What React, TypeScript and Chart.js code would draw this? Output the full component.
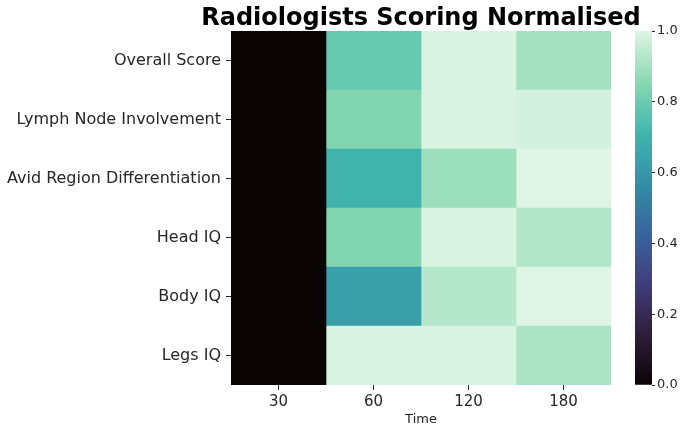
import React, { useEffect, useRef } from "react";
import { Chart, registerables } from "chart.js";
Chart.register(...registerables);

const rowLabels = [
  "Overall Score",
  "Lymph Node Involvement",
  "Avid Region Differentiation",
  "Head IQ",
  "Body IQ",
  "Legs IQ",
];
const timeLabels = ["30", "60", "120", "180"];
// normalised scores per time column (one value per row)
const t30 = [0, 0, 0, 0, 0, 0];
const t60 = [0.79, 0.84, 0.7, 0.84, 0.63, 0.99];
const t120 = [0.99, 0.99, 0.886, 0.99, 0.93, 0.99];
const t180 = [0.9, 0.98, 1.0, 0.924, 1.0, 0.913];
const columns = [t30, t60, t120, t180];
const colorbarTicks = [0, 0.2, 0.4, 0.6, 0.8, 1.0];
const titleText = "Radiologists Scoring Normalised";
const xTitle = "Time";

const makoStops: [number, number[]][] = [
  [0, [11, 4, 5]],
  [1 / 7, [46, 30, 59]],
  [2 / 7, [65, 61, 123]],
  [3 / 7, [55, 101, 158]],
  [4 / 7, [52, 143, 167]],
  [5 / 7, [64, 183, 173]],
  [6 / 7, [138, 217, 177]],
  [1, [222, 245, 229]],
];

function mako(v: number): string {
  const t = Math.max(0, Math.min(1, v));
  for (let i = 0; i < makoStops.length - 1; i++) {
    const [a, ca] = makoStops[i];
    const [b, cb] = makoStops[i + 1];
    if (t <= b) {
      const f = (t - a) / (b - a);
      const c = ca.map((x, k) => Math.round(x + (cb[k] - x) * f));
      return `rgb(${c[0]},${c[1]},${c[2]})`;
    }
  }
  const c = makoStops[makoStops.length - 1][1];
  return `rgb(${c[0]},${c[1]},${c[2]})`;
}

const FONT = "'DejaVu Sans', sans-serif";
const TXT = "#262626";

export default function App() {
  const mainRef = useRef<HTMLCanvasElement>(null);
  const cbRef = useRef<HTMLCanvasElement>(null);

  useEffect(() => {
    const titlePlugin = {
      id: "heatTitle",
      afterDraw(chart: any) {
        const { ctx, chartArea } = chart;
        ctx.save();
        ctx.font = `bold 24px ${FONT}`;
        ctx.fillStyle = "#000";
        ctx.textAlign = "center";
        ctx.textBaseline = "alphabetic";
        ctx.fillText(titleText, (chartArea.left + chartArea.right) / 2, 25);
        ctx.restore();
      },
    };

    const main = new Chart(mainRef.current!, {
      type: "bar",
      data: {
        labels: rowLabels,
        datasets: columns.map((vals, i) => ({
          label: timeLabels[i],
          data: vals.map(() => 1),
          backgroundColor: vals.map(mako),
          borderWidth: 0,
          barPercentage: 1,
          categoryPercentage: 1,
          stack: "s",
        })),
      },
      options: {
        indexAxis: "y",
        responsive: false,
        animation: false,
        layout: { padding: { top: 31, right: 74, left: 0, bottom: 0 } },
        plugins: { legend: { display: false }, tooltip: { enabled: false }, title: { display: false } },
        scales: {
          x: {
            type: "linear",
            stacked: true,
            min: 0,
            max: columns.length,
            afterBuildTicks: (s: any) => {
              s.ticks = timeLabels.map((_, i) => ({ value: i + 0.5 }));
            },
            afterFit: (s: any) => {
              s.height = 47;
            },
            ticks: {
              callback: (_v: any, i: number) => timeLabels[i],
              font: { family: FONT, size: 15 },
              color: TXT,
              padding: 3,
              autoSkip: false,
              maxRotation: 0,
            },
            grid: { drawOnChartArea: false, drawTicks: true, tickLength: 5, tickColor: TXT },
            border: { display: false },
            title: {
              display: true,
              text: xTitle,
              font: { family: FONT, size: 13 },
              color: TXT,
              padding: { top: 0, bottom: 5 },
            },
          },
          y: {
            type: "category",
            stacked: true,
            offset: true,
            afterFit: (s: any) => {
              s.width = 231;
            },
            ticks: { font: { family: FONT, size: 16 }, color: TXT, padding: 5, autoSkip: false },
            grid: { offset: false, drawOnChartArea: false, tickLength: 5, tickColor: TXT },
            border: { display: false },
          },
        },
      } as any,
      plugins: [titlePlugin],
    });

    const cb = new Chart(cbRef.current!, {
      type: "bar",
      data: {
        labels: [""],
        datasets: [
          {
            data: [1],
            backgroundColor: (ctx: any) => {
              const area = ctx.chart.chartArea;
              if (!area) return mako(1);
              const g = ctx.chart.ctx.createLinearGradient(0, area.bottom, 0, area.top);
              for (let i = 0; i <= 40; i++) g.addColorStop(i / 40, mako(i / 40));
              return g;
            },
            borderWidth: 0,
            barPercentage: 1,
            categoryPercentage: 1,
          },
        ],
      },
      options: {
        responsive: false,
        animation: false,
        layout: { padding: { top: 31, bottom: 47, left: 35, right: 0 } },
        plugins: { legend: { display: false }, tooltip: { enabled: false } },
        scales: {
          x: { display: false },
          y: {
            position: "right",
            min: 0,
            max: 1,
            afterBuildTicks: (s: any) => {
              s.ticks = colorbarTicks.map((v) => ({ value: v }));
            },
            afterFit: (s: any) => {
              s.width = 33;
            },
            ticks: {
              callback: (v: any) => Number(v).toFixed(1),
              font: { family: FONT, size: 13 },
              color: TXT,
              padding: 2,
            },
            grid: { drawOnChartArea: false, tickLength: 3, tickColor: TXT },
            border: { display: false },
          },
        },
      } as any,
    });

    return () => {
      main.destroy();
      cb.destroy();
    };
  }, []);

  return (
    <div
      style={{
        position: "fixed",
        left: 0,
        top: 0,
        width: 685,
        height: 432,
        background: "#fff",
        overflow: "hidden",
      }}
    >
      <canvas
        ref={mainRef}
        width={685}
        height={432}
        style={{ position: "absolute", left: 0, top: 0, display: "block" }}
      />
      <canvas
        ref={cbRef}
        width={85}
        height={432}
        style={{ position: "absolute", left: 600, top: 0, display: "block" }}
      />
    </div>
  );
}
